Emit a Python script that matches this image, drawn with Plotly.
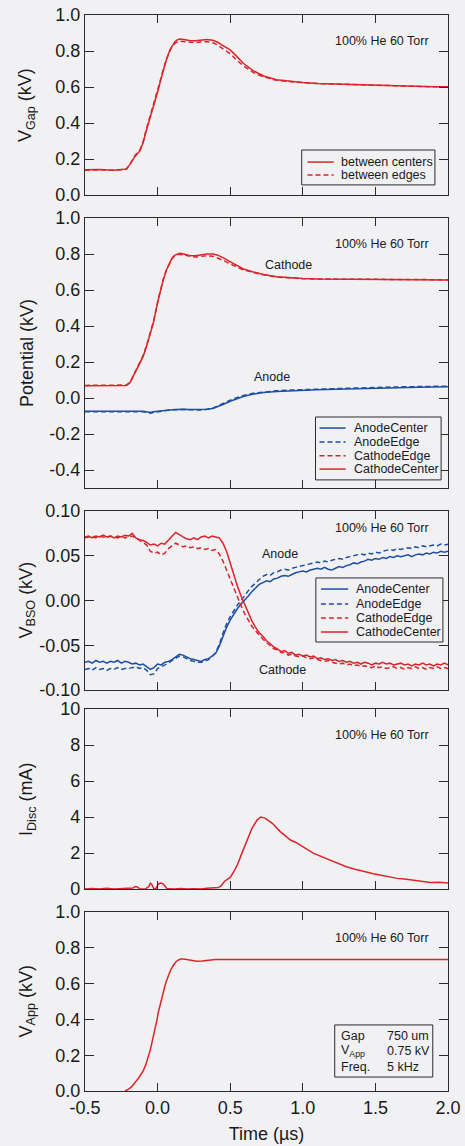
import plotly.graph_objects as go

FONT = "Liberation Sans, Arial, Helvetica, sans-serif"
RED = "#d9252b"
BLUE = "#1f4ea3"
AX = "#2b2b2b"
BG = "#f1f1f4"
DASH = "5px,3px"

# ---------------- data ----------------
x_tickvals = [-0.5, 0.0, 0.5, 1.0, 1.5, 2.0]
x_ticktext = ["-0.5", "0.0", "0.5", "1.0", "1.5", "2.0"]

# Panel 1 / 2 common time samples (us)
t_gap = [-0.5, -0.4, -0.3, -0.25, -0.215, -0.19, -0.157, -0.122, -0.1, -0.077, -0.05, -0.03,
         0.004, 0.02, 0.039, 0.06, 0.085, 0.1, 0.119, 0.135, 0.154, 0.18, 0.22, 0.26, 0.3,
         0.34, 0.38, 0.41, 0.45, 0.5, 0.545, 0.59, 0.66, 0.73, 0.82, 0.9, 1.0, 1.1, 1.23,
         1.35, 1.46, 1.6, 1.69, 1.8, 1.9, 2.0]
vgap_centers = [0.14, 0.142, 0.138, 0.141, 0.145, 0.17, 0.213, 0.245, 0.29, 0.36, 0.43, 0.49,
                0.583, 0.635, 0.694, 0.75, 0.806, 0.83, 0.852, 0.862, 0.866, 0.864, 0.858, 0.857,
                0.862, 0.864, 0.86, 0.85, 0.83, 0.806, 0.77, 0.732, 0.69, 0.661, 0.64, 0.632,
                0.625, 0.62, 0.617, 0.613, 0.611, 0.607, 0.605, 0.604, 0.602, 0.602]
vgap_edges = [0.138, 0.14, 0.137, 0.139, 0.143, 0.172, 0.218, 0.25, 0.296, 0.368, 0.44, 0.5,
              0.59, 0.64, 0.698, 0.752, 0.802, 0.824, 0.843, 0.851, 0.854, 0.852, 0.848, 0.846,
              0.85, 0.852, 0.846, 0.835, 0.812, 0.785, 0.75, 0.718, 0.68, 0.656, 0.637, 0.63,
              0.624, 0.619, 0.616, 0.612, 0.61, 0.606, 0.604, 0.603, 0.601, 0.601]

pot_cathode_center = [0.068, 0.069, 0.067, 0.068, 0.07, 0.085, 0.135, 0.193, 0.23, 0.285, 0.36, 0.415,
                      0.544, 0.6, 0.656, 0.71, 0.757, 0.778, 0.794, 0.8, 0.804, 0.8, 0.792, 0.79,
                      0.795, 0.8, 0.8, 0.795, 0.78, 0.758, 0.738, 0.717, 0.7, 0.686, 0.673, 0.668,
                      0.664, 0.661, 0.66, 0.659, 0.659, 0.658, 0.657, 0.657, 0.656, 0.656]
pot_cathode_edge = [0.07, 0.071, 0.069, 0.07, 0.072, 0.087, 0.138, 0.196, 0.235, 0.29, 0.365, 0.42,
                    0.548, 0.603, 0.658, 0.71, 0.755, 0.775, 0.79, 0.796, 0.798, 0.794, 0.786, 0.783,
                    0.787, 0.79, 0.788, 0.78, 0.765, 0.745, 0.728, 0.712, 0.697, 0.684, 0.672, 0.667,
                    0.663, 0.661, 0.66, 0.66, 0.659, 0.659, 0.658, 0.658, 0.657, 0.657]
pot_anode_center = [-0.074, -0.073, -0.072, -0.073, -0.072, -0.073, -0.072, -0.073, -0.074, -0.076,
                    -0.08, -0.077, -0.073, -0.071, -0.07, -0.068, -0.066, -0.065, -0.064, -0.063,
                    -0.062, -0.063, -0.064, -0.065, -0.066, -0.063, -0.058, -0.05, -0.036, -0.018,
                    -0.005, 0.008, 0.022, 0.03, 0.036, 0.04, 0.043, 0.046, 0.049, 0.052, 0.054,
                    0.057, 0.058, 0.06, 0.061, 0.062]
pot_anode_edge = [-0.076, -0.075, -0.074, -0.075, -0.074, -0.075, -0.074, -0.075, -0.076, -0.079,
                  -0.084, -0.08, -0.075, -0.073, -0.071, -0.069, -0.067, -0.066, -0.065, -0.064,
                  -0.063, -0.064, -0.065, -0.066, -0.067, -0.063, -0.056, -0.046, -0.03, -0.012,
                  0.002, 0.014, 0.027, 0.034, 0.04, 0.044, 0.047, 0.05, 0.053, 0.056, 0.058,
                  0.061, 0.062, 0.064, 0.065, 0.066]

# Panel 3: BSO voltage (values in mV, plotted in kV)
t_bso = [-0.5, -0.475, -0.45, -0.425, -0.4, -0.375, -0.35, -0.325, -0.3, -0.275, -0.25, -0.225,
         -0.2, -0.175, -0.15, -0.125, -0.1, -0.075, -0.05, -0.025, 0.0, 0.025, 0.05, 0.075, 0.1,
         0.125, 0.15, 0.175, 0.2, 0.225, 0.25, 0.275, 0.3, 0.325, 0.35, 0.375, 0.4, 0.425, 0.45,
         0.475, 0.5, 0.525, 0.55, 0.575, 0.6, 0.625, 0.65, 0.675, 0.7, 0.725, 0.75, 0.775, 0.8,
         0.825, 0.85, 0.875, 0.9, 0.925, 0.95, 0.975, 1.0, 1.025, 1.05, 1.075, 1.1, 1.125, 1.15,
         1.175, 1.2, 1.225, 1.25, 1.275, 1.3, 1.325, 1.35, 1.375, 1.4, 1.425, 1.45, 1.475, 1.5,
         1.525, 1.55, 1.575, 1.6, 1.625, 1.65, 1.675, 1.7, 1.725, 1.75, 1.775, 1.8, 1.825, 1.85,
         1.875, 1.9, 1.925, 1.95, 1.975, 2.0]
bso_anode_center_mV = [-69, -68, -70, -67, -69, -68, -70, -68, -69, -67,
                       -70, -68, -69, -71, -70, -72, -71, -74, -77, -75,
                       -71, -72, -69, -68, -66, -63, -60, -61, -63, -65,
                       -66, -67, -68, -66, -65, -62, -59, -51, -40, -30,
                       -22, -15, -9, -4, 0, 5, 10, 14, 18, 20,
                       22, 21, 24, 25, 27, 28, 27, 29, 31, 32,
                       33, 32, 34, 35, 36, 35, 37, 35, 34, 36,
                       38, 37, 39, 40, 42, 41, 43, 44, 46, 45,
                       47, 46, 48, 47, 49, 48, 50, 49, 50, 51,
                       49, 51, 52, 51, 53, 52, 54, 53, 55, 54,
                       55]
bso_anode_edge_mV = [-77, -76, -78, -75, -77, -76, -78, -76, -77, -75,
                     -77, -76, -76, -75, -74, -76, -75, -78, -83, -82,
                     -76, -74, -72, -70, -67, -64, -62, -63, -65, -67,
                     -68, -69, -69, -68, -66, -63, -58, -49, -37, -26,
                     -18, -11, -5, 0, 6, 11, 16, 20, 24, 27,
                     29, 28, 31, 32, 34, 35, 34, 36, 37, 38,
                     39, 40, 41, 42, 43, 42, 44, 43, 45, 46,
                     47, 46, 48, 49, 50, 51, 52, 51, 53, 52,
                     54, 53, 55, 56, 57, 56, 58, 57, 58, 59,
                     58, 60, 59, 61, 60, 61, 62, 61, 63, 62,
                     63]
bso_cathode_edge_mV = [70, 71, 72, 70, 72, 71, 70, 72, 71, 70,
                       72, 70, 71, 72, 70, 67, 65, 62, 55, 53,
                       54, 51, 53, 58, 61, 64, 62, 60, 61, 59,
                       60, 58, 59, 57, 58, 56, 57, 52, 44, 34,
                       23, 12, 3, -6, -15, -22, -29, -34, -39, -43,
                       -47, -50, -54, -55, -58, -58, -61, -60, -62, -63,
                       -62, -64, -65, -64, -66, -67, -68, -67, -69, -70,
                       -71, -70, -72, -71, -73, -72, -74, -73, -74, -75,
                       -73, -75, -74, -76, -75, -74, -76, -75, -77, -75,
                       -76, -74, -76, -75, -77, -75, -76, -74, -76, -75,
                       -76]
bso_cathode_center_mV = [71, 72, 70, 72, 71, 73, 71, 72, 70, 72,
                         71, 73, 72, 75, 70, 68, 67, 65, 62, 63,
                         61, 64, 63, 68, 72, 76, 73, 71, 69, 68,
                         70, 68, 71, 72, 70, 72, 71, 70, 64, 55,
                         42, 28, 16, 5, -5, -15, -23, -30, -36, -40,
                         -45, -48, -52, -54, -57, -56, -59, -58, -61, -60,
                         -62, -61, -63, -62, -65, -64, -66, -65, -67, -66,
                         -68, -67, -69, -68, -70, -69, -71, -69, -70, -72,
                         -70, -71, -69, -71, -70, -72, -71, -70, -72, -71,
                         -73, -71, -72, -70, -72, -71, -73, -71, -72, -70,
                         -72]

# Panel 4: discharge current (mA)
t_disc = [-0.5, -0.45, -0.4, -0.35, -0.3, -0.25, -0.2, -0.17, -0.155, -0.14, -0.12, -0.08, -0.06,
          -0.05, -0.04, -0.025, -0.01, 0.005, 0.02, 0.035, 0.05, 0.065, 0.08, 0.12, 0.16, 0.2,
          0.25, 0.3, 0.34, 0.37, 0.4, 0.42, 0.44, 0.46, 0.48, 0.5, 0.525, 0.55, 0.58, 0.615,
          0.65, 0.685, 0.71, 0.74, 0.79, 0.845, 0.88, 0.915, 0.95, 0.985, 1.03, 1.075, 1.13,
          1.19, 1.25, 1.3, 1.36, 1.42, 1.48, 1.53, 1.59, 1.65, 1.7, 1.76, 1.82, 1.88, 1.94, 2.0]
i_disc = [0.0, 0.03, 0.0, 0.04, 0.0, 0.02, 0.0, 0.05, 0.14, 0.12, 0.0, 0.02, 0.15,
          0.32, 0.25, 0.0, 0.05, 0.28, 0.33, 0.3, 0.18, 0.0, 0.02, 0.0, 0.03, 0.0,
          0.02, 0.0, 0.04, 0.06, 0.05, 0.08, 0.2, 0.42, 0.54, 0.64, 0.96, 1.35, 1.98, 2.72,
          3.37, 3.83, 4.0, 3.94, 3.65, 3.19, 2.95, 2.72, 2.6, 2.44, 2.2, 1.98, 1.8,
          1.61, 1.42, 1.24, 1.1, 0.96, 0.86, 0.78, 0.68, 0.59, 0.56, 0.5, 0.45, 0.36, 0.38, 0.33]

# Panel 5: applied voltage (kV)
t_app = [-0.224, -0.2, -0.178, -0.155, -0.132, -0.115, -0.097, -0.08, -0.063, -0.05, -0.04,
         -0.028, -0.017, -0.005, 0.006, 0.018, 0.03, 0.041, 0.052, 0.064, 0.075, 0.09, 0.11,
         0.127, 0.144, 0.16, 0.179, 0.2, 0.237, 0.27, 0.306, 0.35, 0.398, 0.5, 0.7, 0.9, 1.1,
         1.3, 1.5, 1.7, 1.9, 2.0]
v_app = [0.0, 0.01, 0.024, 0.045, 0.071, 0.092, 0.117, 0.15, 0.192, 0.23, 0.266,
         0.305, 0.35, 0.395, 0.443, 0.486, 0.527, 0.562, 0.592, 0.622, 0.648, 0.676, 0.704,
         0.722, 0.732, 0.737, 0.738, 0.735, 0.728, 0.725, 0.726, 0.731, 0.734, 0.735, 0.735,
         0.736, 0.735, 0.735, 0.734, 0.735, 0.734, 0.735]

y_titles = ["V<sub>Gap</sub> (kV)", "Potential (kV)", "V<sub>BSO</sub> (kV)",
            "I<sub>Disc</sub> (mA)", "V<sub>App</sub> (kV)"]
y_ranges = [[0, 1], [-0.5, 1.0], [-0.1, 0.1], [0, 10], [0, 1]]
y_tickvals = [[0, 0.2, 0.4, 0.6, 0.8, 1.0],
              [-0.4, -0.2, 0.0, 0.2, 0.4, 0.6, 0.8, 1.0],
              [-0.1, -0.05, 0.0, 0.05, 0.1],
              [0, 2, 4, 6, 8, 10],
              [0, 0.2, 0.4, 0.6, 0.8, 1.0]]
y_ticktext = [["0.0", "0.2", "0.4", "0.6", "0.8", "1.0"],
              ["-0.4", "-0.2", "0.0", "0.2", "0.4", "0.6", "0.8", "1.0"],
              ["-0.10", "-0.05", "0.00", "0.05", "0.10"],
              ["0", "2", "4", "6", "8", "10"],
              ["0.0", "0.2", "0.4", "0.6", "0.8", "1.0"]]
condition_label = "100% He 60 Torr"
info_rows = [("Gap", "750 um"), ("V<sub>App</sub>", "0.75 kV"), ("Freq.", "5 kHz")]

# ---------------- figure ----------------
W, H = 465, 1146
ML, MR, MT, MB = 85, 17, 15, 55
PH = H - MT - MB
panel_px = [(15, 195), (218, 488), (511, 690), (709, 889), (912, 1091)]
SMALL = 12.5


def ydom(top, bot):
    return [(H - MB - bot) / PH, (H - MB - top) / PH]


def axn(i):
    return "" if i == 1 else str(i)


fig = go.Figure()


def add(x, y, i, color, dash, name):
    fig.add_trace(go.Scatter(
        x=x, y=y, mode="lines", name=name, showlegend=False, hoverinfo="skip",
        line=dict(color=color, width=1.5, dash=dash),
        xaxis="x" + axn(i), yaxis="y" + axn(i)))


add(t_gap, vgap_centers, 1, RED, "solid", "between centers")
add(t_gap, vgap_edges, 1, RED, DASH, "between edges")

add(t_gap, pot_anode_center, 2, BLUE, "solid", "AnodeCenter")
add(t_gap, pot_anode_edge, 2, BLUE, DASH, "AnodeEdge")
add(t_gap, pot_cathode_edge, 2, RED, DASH, "CathodeEdge")
add(t_gap, pot_cathode_center, 2, RED, "solid", "CathodeCenter")

add(t_bso, [v / 1000 for v in bso_anode_center_mV], 3, BLUE, "solid", "AnodeCenter")
add(t_bso, [v / 1000 for v in bso_anode_edge_mV], 3, BLUE, DASH, "AnodeEdge")
add(t_bso, [v / 1000 for v in bso_cathode_edge_mV], 3, RED, DASH, "CathodeEdge")
add(t_bso, [v / 1000 for v in bso_cathode_center_mV], 3, RED, "solid", "CathodeCenter")

add(t_disc, i_disc, 4, RED, "solid", "I_Disc")
add(t_app, v_app, 5, RED, "solid", "V_App")

tickfont = dict(family=FONT, size=18, color="#1a1a1a")
common = dict(showline=True, linecolor=AX, linewidth=1.3, mirror="ticks", ticks="inside",
              tickcolor=AX, tickwidth=1.3, showgrid=False, zeroline=False, tickfont=tickfont,
              automargin=False)

layout = dict(width=W, height=H, margin=dict(l=ML, r=MR, t=MT, b=MB),
              paper_bgcolor=BG, plot_bgcolor=BG, showlegend=False,
              font=dict(family=FONT, size=SMALL, color="#1a1a1a"), template="none")

annotations = []
shapes = []
for k in range(5):
    i = k + 1
    xa = dict(common, domain=[0, 1], range=[-0.5, 2.0], anchor="y" + axn(i), ticklen=8,
              tickvals=x_tickvals, ticktext=x_ticktext, showticklabels=(i == 5))
    if i > 1:
        xa["matches"] = "x"
    if i == 5:
        xa["title"] = dict(text="Time (µs)", font=dict(family=FONT, size=18), standoff=10)
    ya = dict(common, domain=ydom(*panel_px[k]), range=y_ranges[k], anchor="x" + axn(i),
              ticklen=9, tickvals=y_tickvals[k], ticktext=y_ticktext[k])
    layout["xaxis" + axn(i)] = xa
    layout["yaxis" + axn(i)] = ya
    xd, yd = "x" + axn(i) + " domain", "y" + axn(i) + " domain"
    annotations.append(dict(text=y_titles[k], xref=xd, yref=yd, x=0, y=0.5, xshift=-58,
                            xanchor="center", yanchor="middle", textangle=-90, showarrow=False,
                            font=dict(family=FONT, size=18)))
    annotations.append(dict(text=condition_label, xref=xd, yref=yd, x=1, y=1, xshift=-17,
                            yshift=(-17 if i == 3 else -26), xanchor="right", yanchor="middle",
                            showarrow=False, font=dict(family=FONT, size=SMALL)))


def legend_box(i, box, rows, sx, tx, items):
    xd, yd = "x" + axn(i) + " domain", "y" + axn(i) + " domain"
    shapes.append(dict(type="rect", xref=xd, yref=yd, x0=box[0], y0=box[1], x1=box[2], y1=box[3],
                       line=dict(color=AX, width=1), fillcolor=BG, layer="above"))
    for (label, color, dash), yy in zip(items, rows):
        shapes.append(dict(type="line", xref=xd, yref=yd, x0=sx[0], x1=sx[1], y0=yy, y1=yy,
                           line=dict(color=color, width=1.5, dash=dash), layer="above"))
        annotations.append(dict(text=label, xref=xd, yref=yd, x=tx, y=yy, xanchor="left",
                                yanchor="middle", showarrow=False,
                                font=dict(family=FONT, size=SMALL)))


legend_box(1, (0.597, 0.056, 0.964, 0.25), [0.183, 0.111], (0.613, 0.685), 0.699,
           [("between centers", RED, "solid"), ("between edges", RED, DASH)])
four = [("AnodeCenter", BLUE, "solid"), ("AnodeEdge", BLUE, DASH),
        ("CathodeEdge", RED, DASH), ("CathodeCenter", RED, "solid")]
legend_box(2, (0.635, 0.030, 0.981, 0.263), [0.222, 0.170, 0.119, 0.070], (0.646, 0.718), 0.735, four)
legend_box(3, (0.636, 0.268, 0.986, 0.626), [0.564, 0.480, 0.402, 0.324], (0.650, 0.725), 0.741, four)

# Curve labels
for i, txt, x, y in [(2, "Cathode", 0.90, 0.74), (2, "Anode", 0.785, 0.117),
                     (3, "Anode", 0.84, 0.052), (3, "Cathode", 0.857, -0.078)]:
    annotations.append(dict(text=txt, xref="x" + axn(i), yref="y" + axn(i), x=x, y=y,
                            xanchor="center", yanchor="middle", showarrow=False,
                            font=dict(family=FONT, size=SMALL)))

# Info box in panel 5
shapes.append(dict(type="rect", xref="x5 domain", yref="y5 domain", x0=0.688, x1=0.958,
                   y0=0.078, y1=0.369, line=dict(color=AX, width=1), fillcolor=BG, layer="above"))
for (a, b), yy in zip(info_rows, [0.307, 0.223, 0.134]):
    annotations.append(dict(text=a, xref="x5 domain", yref="y5 domain", x=0.699, y=yy,
                            xanchor="left", yanchor="middle", showarrow=False,
                            font=dict(family=FONT, size=SMALL)))
    annotations.append(dict(text=b, xref="x5 domain", yref="y5 domain", x=0.826, y=yy,
                            xanchor="left", yanchor="middle", showarrow=False,
                            font=dict(family=FONT, size=SMALL)))

layout["annotations"] = annotations
layout["shapes"] = shapes
fig.update_layout(**layout)
fig.write_html("out.html")
